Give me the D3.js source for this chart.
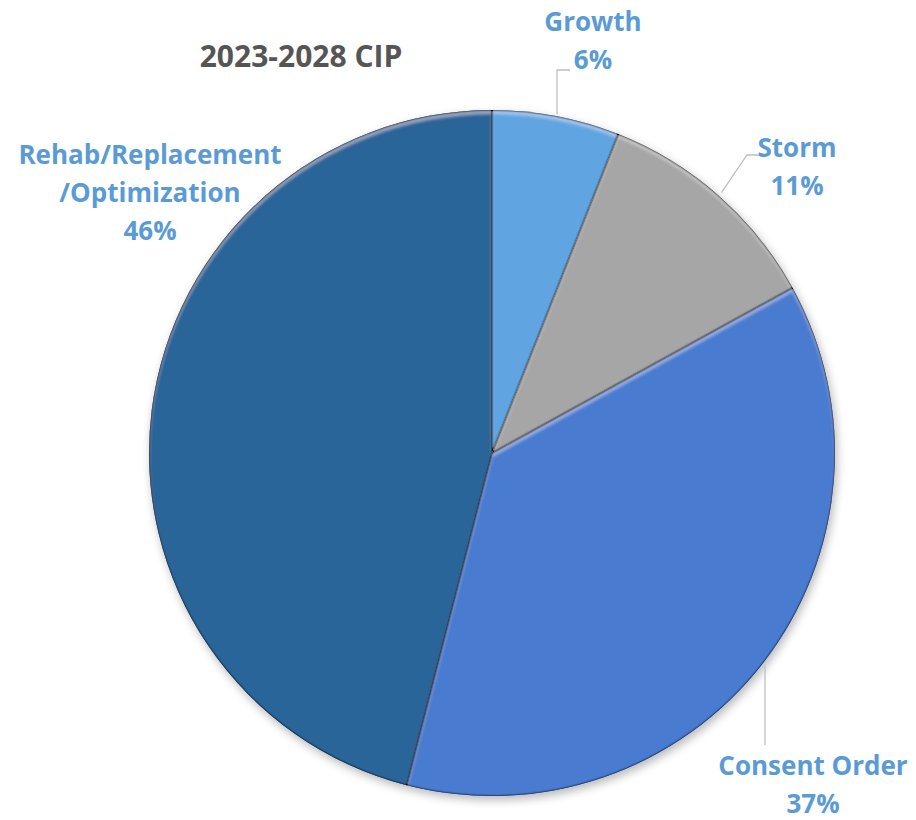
<!DOCTYPE html>
<html>
<head>
<meta charset="utf-8">
<script src="https://cdn.jsdelivr.net/npm/d3@7"></script>
<style>
  html, body { margin: 0; padding: 0; background: #fff; }
  svg { display: block; }
</style>
</head>
<body>
<svg id="chart" width="916" height="820"></svg>
<script>
// Capital Improvement Program share by category
const categories = ["Growth", "Storm", "Consent Order", "Rehab/Replacement/Optimization"];
const shares = [6, 11, 37, 46];
const labelLines = [["Growth"], ["Storm"], ["Consent Order"], ["Rehab/Replacement", "/Optimization"]];
const colors = ["#60a5e2", "#a6a6a6", "#4a7bd0", "#2b6599"];
const title = "2023-2028 CIP";

const W = 916, H = 820;
const cx = 492, cy = 453, R = 343;
const labelColor = "#5b9bd5";
const font = "'Open Sans', 'Noto Sans', sans-serif";

const svg = d3.select("#chart");
const defs = svg.append("defs");

// soft outer shadow around the whole pie
const outer = defs.append("filter").attr("id", "outerShadow")
  .attr("x", "-10%").attr("y", "-10%").attr("width", "120%").attr("height", "120%");
outer.append("feGaussianBlur").attr("in", "SourceAlpha").attr("stdDeviation", 5).attr("result", "b");
outer.append("feOffset").attr("in", "b").attr("dx", 2).attr("dy", 4).attr("result", "o");
outer.append("feComponentTransfer").attr("in", "o").attr("result", "s")
  .append("feFuncA").attr("type", "linear").attr("slope", 0.28);
const om = outer.append("feMerge");
om.append("feMergeNode").attr("in", "s");
om.append("feMergeNode").attr("in", "SourceGraphic");

// bevel: dark inner edge plus a light highlight on upper edges
const bevel = defs.append("filter").attr("id", "bevel")
  .attr("x", "-5%").attr("y", "-5%").attr("width", "110%").attr("height", "110%");
bevel.append("feFlood").attr("flood-color", "#000").attr("flood-opacity", 1).attr("result", "black");
bevel.append("feComposite").attr("in", "black").attr("in2", "SourceAlpha").attr("operator", "out").attr("result", "inv");
bevel.append("feGaussianBlur").attr("in", "inv").attr("stdDeviation", 1.3).attr("result", "invBlur");
bevel.append("feOffset").attr("in", "invBlur").attr("dx", 0.3).attr("dy", 0.4).attr("result", "invOff");
bevel.append("feComposite").attr("in", "invOff").attr("in2", "SourceAlpha").attr("operator", "in").attr("result", "dark0");
bevel.append("feComponentTransfer").attr("in", "dark0").attr("result", "dark")
  .append("feFuncA").attr("type", "linear").attr("slope", 2.0);
bevel.append("feFlood").attr("flood-color", "#fff").attr("flood-opacity", 1).attr("result", "white");
bevel.append("feGaussianBlur").attr("in", "inv").attr("stdDeviation", 1.5).attr("result", "hiBlur");
bevel.append("feOffset").attr("in", "hiBlur").attr("dx", 0).attr("dy", 3.5).attr("result", "hiOff");
bevel.append("feComposite").attr("in", "white").attr("in2", "hiOff").attr("operator", "in").attr("result", "hiW");
bevel.append("feComposite").attr("in", "hiW").attr("in2", "SourceAlpha").attr("operator", "in").attr("result", "hi0");
bevel.append("feComponentTransfer").attr("in", "hi0").attr("result", "hi")
  .append("feFuncA").attr("type", "linear").attr("slope", 0.3);
const bm = bevel.append("feMerge");
bm.append("feMergeNode").attr("in", "SourceGraphic");
bm.append("feMergeNode").attr("in", "hi");
bm.append("feMergeNode").attr("in", "dark");

const data = categories.map((c, i) => ({ name: c, value: shares[i], lines: labelLines[i], color: colors[i] }));
const pie = d3.pie().sort(null).value(d => d.value);
const arcs = pie(data);
const arc = d3.arc().innerRadius(0).outerRadius(R);

const g = svg.append("g").attr("transform", `translate(${cx},${cy})`);
const pieG = g.append("g").attr("filter", "url(#outerShadow)");
pieG.selectAll("path.slice").data(arcs).join("path")
  .attr("class", "slice")
  .attr("d", arc)
  .attr("fill", d => d.data.color)
  .attr("filter", "url(#bevel)");

// title
svg.append("text")
  .attr("x", 301).attr("y", 67)
  .attr("text-anchor", "middle")
  .attr("font-family", font).attr("font-weight", 700)
  .attr("font-size", 30).attr("fill", "#555555")
  .text(title);

// data labels with leader lines
const lineH = 38;
const labelLayout = [
  { x: 593, y: 31, leader: "vertical", lx: 557, ey: 70, hx: 570 },
  { x: 797, y: 157, leader: "elbow", ex: 747, ey: 155, hx: 760 },
  { x: 813, y: 775, leader: "down", lx: 765, ey: 745 },
  { x: 150, y: 164, leader: null }
];

const leaderColor = "#bfbfbf";
arcs.forEach((a, i) => {
  const L = labelLayout[i];
  const mid = (a.startAngle + a.endAngle) / 2;
  let path = null;
  if (L.leader === "vertical") {
    const y0 = -Math.sqrt(R * R - (L.lx - cx) ** 2) + cy - 2;
    path = `M${L.lx},${y0}V${L.ey}H${L.hx}`;
  } else if (L.leader === "elbow") {
    const x0 = cx + (R + 4) * Math.sin(mid), y0 = cy - (R + 4) * Math.cos(mid);
    path = `M${x0},${y0}L${L.ex},${L.ey}H${L.hx}`;
  } else if (L.leader === "down") {
    const y0 = Math.sqrt(R * R - (L.lx - cx) ** 2) + cy + 5;
    path = `M${L.lx},${y0}V${L.ey}`;
  }
  if (path) {
    svg.append("path").attr("d", path).attr("fill", "none")
      .attr("stroke", leaderColor).attr("stroke-width", 1.3);
  }
  const lines = a.data.lines.concat([`${a.data.value}%`]);
  const t = svg.append("text")
    .attr("text-anchor", "middle")
    .attr("font-family", font).attr("font-weight", 700)
    .attr("font-size", 26).attr("fill", labelColor);
  lines.forEach((s, k) => {
    t.append("tspan").attr("x", L.x).attr("y", L.y + k * lineH).text(s);
  });
});
</script>
</body>
</html>
